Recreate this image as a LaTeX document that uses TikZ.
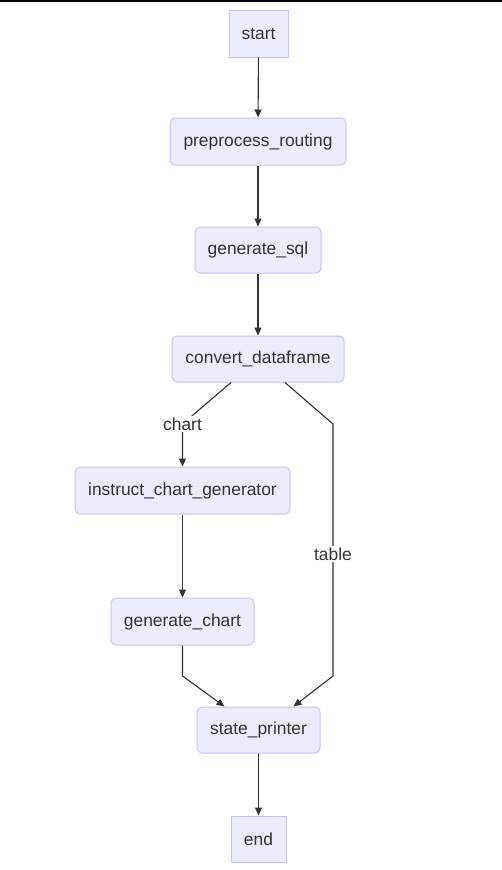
\documentclass[tikz,border=0pt]{standalone}
\usepackage{fontspec}
\setmainfont{Liberation Sans}
\usetikzlibrary{arrows.meta}
\definecolor{nodefill}{HTML}{ECECFF}
\definecolor{nodeborder}{HTML}{C9C3F6}
\definecolor{txt}{HTML}{333333}
\begin{document}
\begin{tikzpicture}[x=1pt,y=-1pt,
  box/.style={draw=nodeborder,fill=nodefill,line width=1pt,text=txt,inner sep=0pt,
    font=\fontsize{17.4}{20}\selectfont,rounded corners=5pt},
  sq/.style={box,rounded corners=0pt},
  edge/.style={draw=txt,line width=1.1pt,-{Triangle[length=8pt,width=7pt]}},
  lbl/.style={fill=white,text=txt,inner sep=2pt,font=\fontsize{17.4}{20}\selectfont}]
\useasboundingbox (0,0) rectangle (502,870);
\fill[white] (0,0) rectangle (502,870);
\draw[black,line width=1.5pt] (0,0.75) -- (502,0.75);

\node[sq,minimum width=59pt,minimum height=47pt] (start) at (258.5,33.5) {start};
\node[box,minimum width=176pt,minimum height=47pt] (pre) at (258,141.5) {preprocess\_routing};
\node[box,minimum width=126pt,minimum height=46pt] (sql) at (258,250) {generate\_sql};
\node[box,minimum width=172pt,minimum height=46pt] (cd) at (258,359) {convert\_dataframe};
\node[box,minimum width=215pt,minimum height=47pt] (icg) at (182.5,490.5) {instruct\_chart\_generator};
\node[box,minimum width=143pt,minimum height=47pt] (gc) at (182.5,621.5) {generate\_chart};
\node[box,minimum width=123pt,minimum height=46pt] (sp) at (258.5,730) {state\_printer};
\node[sq,minimum width=55pt,minimum height=46pt] (end) at (258.5,839) {end};

\coordinate (cchart) at (182.5,424);
\coordinate (ctab1) at (333,424);
\coordinate (ctab2) at (333,676);
\coordinate (cgc) at (182.5,676);
\coordinate (ctab) at (333,554);

\draw[edge] (start) -- (pre);
\draw[edge] (pre) -- (sql);
\draw[edge] (sql) -- (cd);
\draw[edge] ([xshift=-27pt]cd.south) -- (cchart) -- (icg);
\draw[edge] (icg) -- (gc);
\draw[edge] ([xshift=27pt]cd.south) -- (ctab1) -- (ctab2) -- ([xshift=35pt]sp.north);
\draw[edge] (gc.south) -- (cgc) -- ([xshift=-34pt]sp.north);
\draw[edge] (sp) -- (end);

\node[lbl] (lchart) at (cchart) {chart};
\node[lbl] (ltable) at (ctab) {table};
\end{tikzpicture}
\end{document}
